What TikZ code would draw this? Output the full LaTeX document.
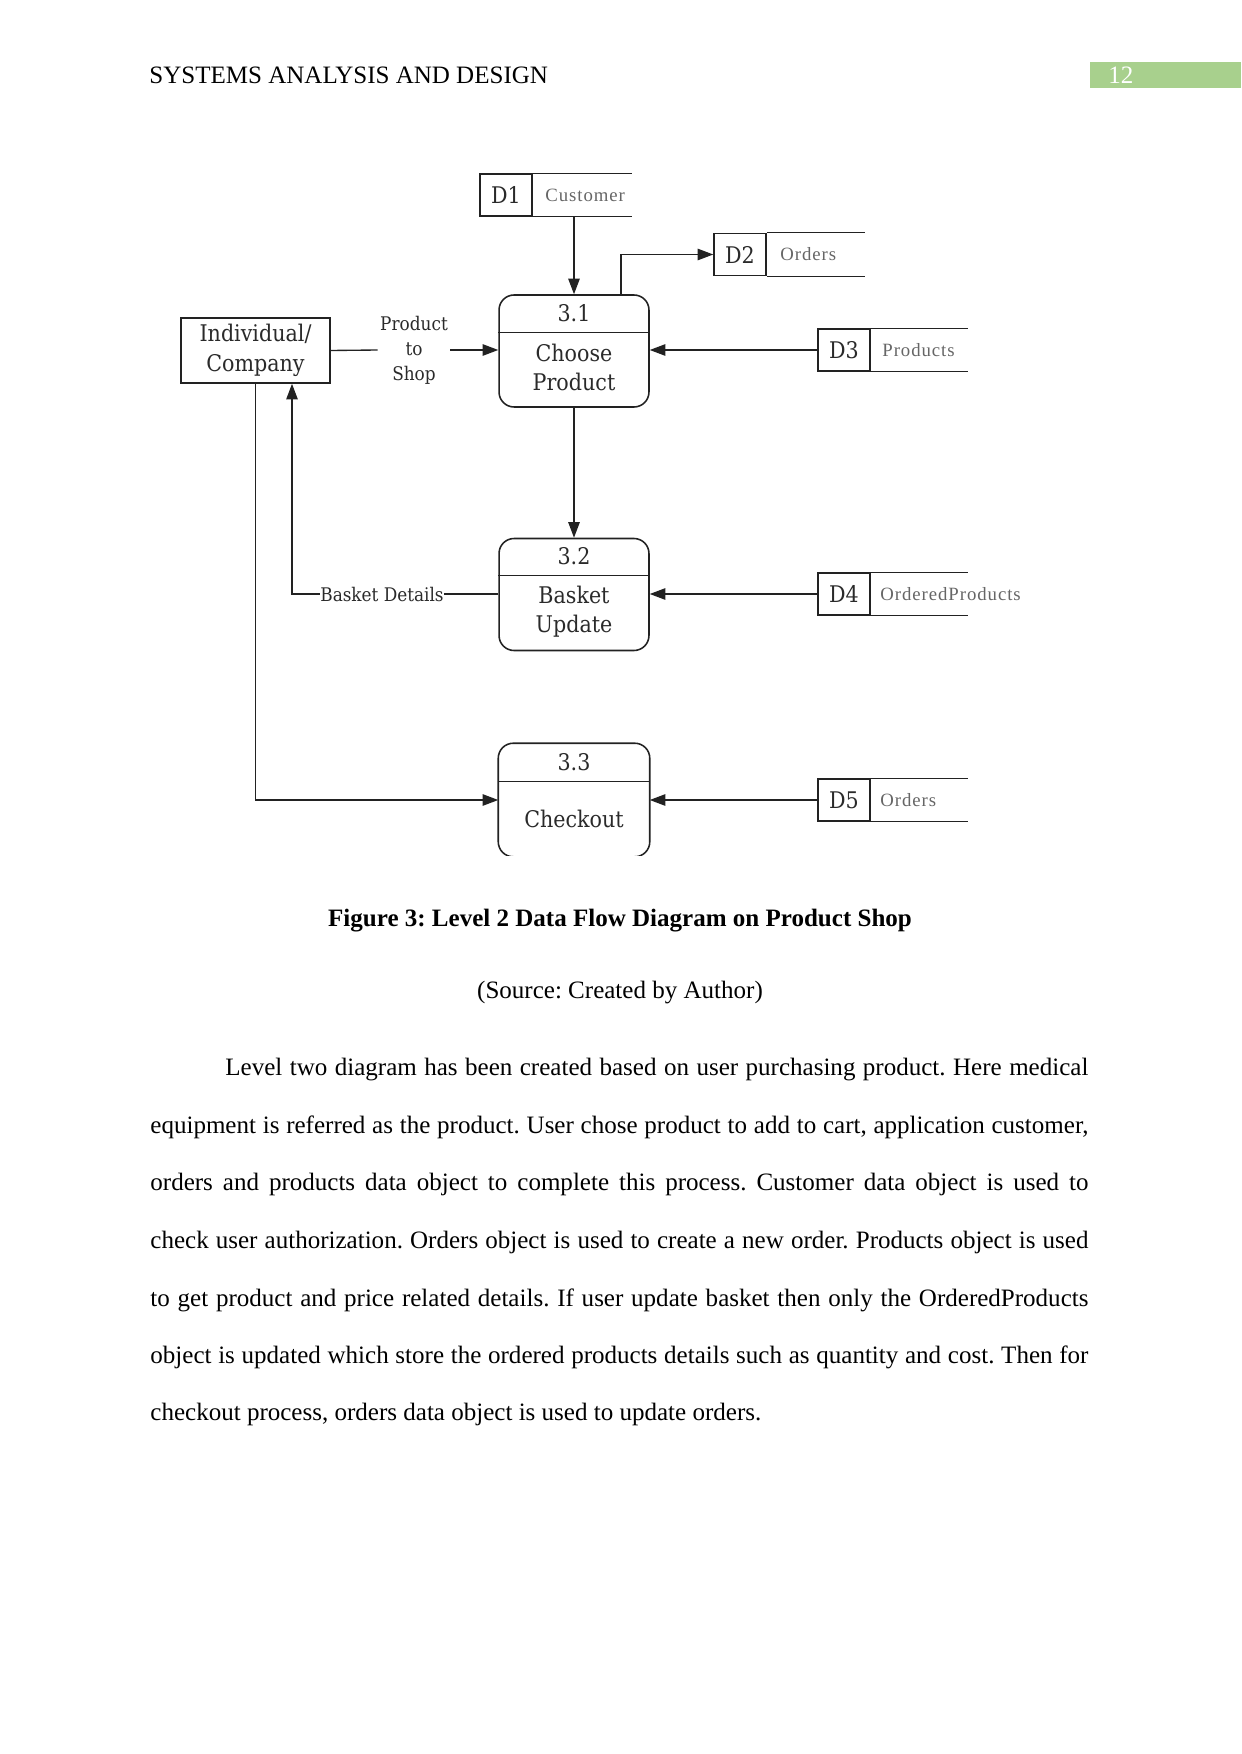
\documentclass[tikz,border=0pt]{standalone}
\usepackage{fontspec}
\setmainfont{Liberation Serif}
\newfontfamily\dfont{DejaVu Serif Condensed}
\newfontfamily\sfont[LetterSpace=5]{Liberation Serif}
\usetikzlibrary{arrows.meta,calc}
\definecolor{hdrgreen}{HTML}{A8D08D}
\definecolor{ln}{HTML}{222222}
\definecolor{ptxt}{HTML}{2A2A2A}
\definecolor{stxt}{HTML}{666666}
\frenchspacing
\begin{document}
\frenchspacing
\begin{tikzpicture}[x=0.4795pt,y=-0.4795pt,
  line/.style={draw=ln,line width=0.65pt},
  flow/.style={line,-{Triangle[length=7.5pt,width=5.5pt]}},
  proc/.style={draw=ln,line width=0.75pt,rounded corners=7.2pt,minimum width=71.9pt,minimum height=53.7pt,inner sep=0},
  ptext/.style={inner sep=0,text=ptxt,align=center,font=\dfont\fontsize{11}{13.9}\selectfont},
  ent/.style={draw=ln,line width=0.75pt,minimum width=71.4pt,minimum height=31.2pt,inner sep=0,text=ptxt,align=center,font=\dfont\fontsize{11}{14.4}\selectfont},
  dbox/.style={draw=ln,line width=0.75pt,minimum width=24.9pt,minimum height=20.1pt,inner sep=0,text=ptxt,font=\dfont\fontsize{11}{13}\selectfont},
  dtext/.style={anchor=west,inner sep=0,text=stxt,font=\sfont\fontsize{9}{11}\selectfont},
  lbl/.style={inner sep=1pt,text=ptxt,align=center,font=\dfont\fontsize{9}{12}\selectfont},
  body/.style={anchor=base west,inner sep=0,font=\fontsize{12}{14}\selectfont}]
\useasboundingbox (0,0) rectangle (1241,1754);

% header
\node[body] (hdr) at (149,83.5) {SYSTEMS ANALYSIS AND DESIGN};
\node[fill=hdrgreen,anchor=north west,minimum width=72.4pt,minimum height=12.5pt,inner sep=0] (pg) at (1090,62) {};
\node[body,text=white] (pgn) at (1108,84) {12};

% processes
\node[proc] (p1) at (574,351) {};
\node[proc] (p2) at (574,594.5) {};
\node[proc,draw=none] (p3) at (574,800) {};
\begin{scope}
\clip (400,700) rectangle (700,855);
\draw[draw=ln,line width=0.75pt,rounded corners=7.2pt] (p3.north west) rectangle (p3.south east);
\end{scope}
\foreach \p/\n in {p1/3.1,p2/3.2,p3/3.3}{
  \draw[line] ($(\p.north west)+(0,38)$) -- ($(\p.north east)+(0,38)$);
  \node[ptext] (\p n) at ($(\p.north)+(0,18.5)$) {\n};
}
\node[ptext] (p1b) at ($(p1.north)+(0,73.5)$) {Choose\\Product};
\node[ptext] (p2b) at ($(p2.north)+(0,74)$) {Basket\\Update};
\node[ptext] (p3b) at ($(p3.north)+(0,76)$) {Checkout};

% external entity
\node[ent] (ic) at (255.5,350.5) {Individual/\\Company};

% data stores
\node[dbox] (d1) at (506,195) {D1};
\draw[line] (d1.north east) -- ++(99,0);
\draw[line] (d1.south east) -- ++(99,0);
\node[dtext] (d1t) at (545,195) {Customer};

\node[dbox] (d2) at (740,254.5) {D2};
\draw[line] (d2.north east) -- ++(98,0);
\draw[line] (d2.south east) -- ++(98,0);
\node[dtext] (d2t) at (780,254.5) {Orders};

\node[dbox] (d3) at (844,350) {D3};
\draw[line] (d3.north east) -- ++(97,0);
\draw[line] (d3.south east) -- ++(97,0);
\node[dtext] (d3t) at (882,350) {Products};

\node[dbox] (d4) at (844,594) {D4};
\draw[line] (d4.north east) -- ++(97,0);
\draw[line] (d4.south east) -- ++(97,0);
\node[dtext] (d4t) at (880,594) {OrderedProducts};

\node[dbox] (d5) at (844,800) {D5};
\draw[line] (d5.north east) -- ++(97,0);
\draw[line] (d5.south east) -- ++(97,0);
\node[dtext] (d5t) at (880,800) {Orders};

% labels
\node[lbl] (pts) at (414,350) {Product\\to\\Shop};
\node[lbl,inner sep=0] (bd) at (382,594) {Basket Details};
\coordinate (d2x) at (621,0);
\coordinate (bdx) at (292,0);

% flows
\draw[line] (ic.east) -- (pts.west);
\draw[flow] (pts.east) -- (pts.east -| p1.west);
\draw[flow] (d1.south -| p1.north) -- (p1.north);
\draw[flow] (p1.north -| d2x) |- (d2.west);
\draw[flow] (d3.west) -- (d3.west -| p1.east);
\draw[flow] (p1.south) -- (p2.north);
\draw[flow] (d4.west) -- (d4.west -| p2.east);
\draw[line] (p2.west |- bd.east) -- (bd.east);
\draw[flow] (bd.west) -| (ic.south -| bdx);
\draw[flow] (ic.south) |- (p3.west);
\draw[flow] (d5.west) -- (d5.west -| p3.east);

% caption and text
\node[anchor=base,inner sep=0,font=\bfseries\fontsize{12}{14}\selectfont] (cap) at (620,926) {Figure 3: Level 2 Data Flow Diagram on Product Shop};
\node[anchor=base,inner sep=0,font=\fontsize{12}{14}\selectfont] (src) at (620,998) {(Source: Created by Author)};

\node[body] (l1) at (225,1075) {\makebox[413.8pt][s]{Level two diagram has been created based on user purchasing product. Here medical}};
\node[body] (l2) at (150,1133) {\makebox[449.8pt][s]{equipment is referred as the product. User chose product to add to cart, application customer,}};
\node[body] (l3) at (150,1190) {\makebox[449.8pt][s]{orders and products data object to complete this process. Customer data object is used to}};
\node[body] (l4) at (150,1248) {\makebox[449.8pt][s]{check user authorization. Orders object is used to create a new order. Products object is used}};
\node[body] (l5) at (150,1306) {\makebox[449.8pt][s]{to get product and price related details. If user update basket then only the OrderedProducts}};
\node[body] (l6) at (150,1363) {\makebox[449.8pt][s]{object is updated which store the ordered products details such as quantity and cost. Then for}};
\node[body] (l7) at (150,1420) {checkout process, orders data object is used to update orders.};
\end{tikzpicture}
\end{document}
